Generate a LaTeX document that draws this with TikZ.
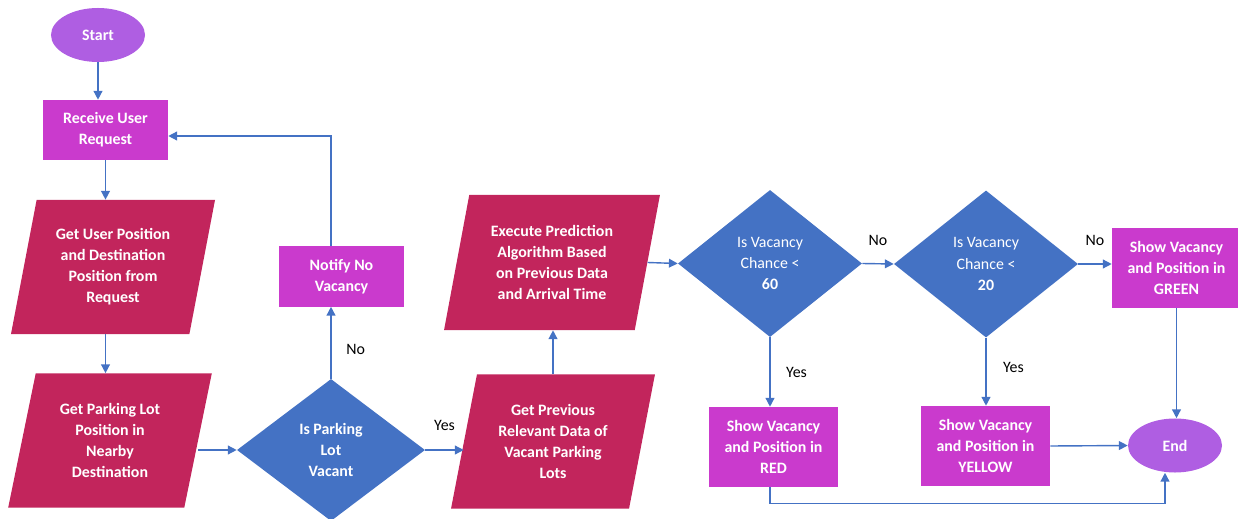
\documentclass[tikz,border=0pt]{standalone}
\usepackage{fontspec}
\setmainfont{Carlito}
\usetikzlibrary{arrows.meta,positioning,shapes.geometric}
\definecolor{ovalpurple}{HTML}{AF5EE2}
\definecolor{boxmagenta}{HTML}{CA3ACD}
\definecolor{iocrimson}{HTML}{C2255C}
\definecolor{decblue}{HTML}{4472C4}

\begin{document}
\begin{tikzpicture}[
    x=0.025cm, y=-0.025cm,
    txt/.style={text=white, align=center, font=\fontsize{11.3}{15}\selectfont\bfseries},
    oval/.style={txt, ellipse, fill=ovalpurple, minimum width=2.35cm, minimum height=1.35cm, inner sep=0pt},
    box/.style={txt, rectangle, fill=boxmagenta, minimum width=3.125cm, minimum height=1.5cm, inner sep=1pt},
    showbox/.style={box, minimum width=3.225cm, minimum height=2cm},
    iobox/.style={txt, trapezium, trapezium left angle=76, trapezium right angle=104, trapezium stretches=true, fill=iocrimson, minimum width=5.1cm, minimum height=3.35cm, inner sep=0pt},
    decbox/.style={txt, diamond, aspect=1.25, fill=decblue, minimum width=4.6cm, minimum height=3.675cm, inner sep=0pt},
    arr/.style={-{Triangle[length=2.2mm,width=2.2mm]}, decblue, line width=1pt},
    lbl/.style={font=\fontsize{11.3}{13}\selectfont, text=black}
]
\useasboundingbox (0,0) rectangle (1238,519);
\node[oval] (start) at (98,35) {Start};
\node[box] (recv) at (105.5,130) {Receive User\\Request};
\node[iobox] (getuser) at (113,267) {Get User Position\\and Destination\\Position from\\Request};
\node[iobox] (getlot) at (110,440.5) {Get Parking Lot\\Position in\\Nearby\\Destination};
\node[decbox, minimum width=4.7cm, minimum height=3.55cm] (vacant) at (331,450) {Is Parking\\Lot\\Vacant};
\node[box] (novac) at (341.5,276.5) {Notify No\\Vacancy};
\node[iobox] (prevdata) at (553,441.5) {Get Previous\\Relevant Data of\\Vacant Parking\\Lots};
\node[iobox, minimum width=5.4cm, minimum height=3.375cm] (predict) at (552,262.5) {Execute Prediction\\Algorithm Based\\on Previous Data\\and Arrival Time};
\node[decbox] (chance60) at (770,263.5) {\mdseries Is Vacancy\\\mdseries Chance <\\60};
\node[decbox] (chance20) at (986,264) {\mdseries Is Vacancy\\\mdseries Chance <\\20};
\node[showbox] (red) at (773.5,447) {Show Vacancy\\and Position in\\RED};
\node[showbox] (yellow) at (985.5,446) {Show Vacancy\\and Position in\\YELLOW};
\node[showbox] (green) at (1176.5,268) {Show Vacancy\\and Position in\\GREEN};
\node[oval] (stop) at (1175,445.5) {End};
% left column
\draw[arr] (start) -- (start |- recv.north);
\draw[arr] (recv.south) -- (recv.south |- getuser.north);
\draw[arr] (recv.south |- getuser.south) -- (recv.south |- getlot.north);
\draw[arr] (getlot.east |- vacant.west) -- (vacant.west);
\draw[arr] (vacant.east) -- (vacant.east -| prevdata.west) node[lbl, midway, above=0.35cm] {Yes};
\draw[arr] (vacant.north) -- (vacant.north |- novac.south) node[lbl, pos=0.41, right=0.25cm] {No};
\draw[arr] (vacant.north |- novac.north) |- ([yshift=-0.15cm]recv.east);
% prediction
\draw[arr] (prevdata.north) -- (prevdata.north |- predict.south);
\draw[arr] (predict.east) -- (chance60.west);
\draw[arr] (chance60.east) -- (chance20.west) node[lbl, midway, above=0.33cm] {No};
\draw[arr] (chance20.east) -- (chance20.east -| green.west) node[lbl, midway, above=0.33cm] {No};
\draw[arr] (chance60.south) -- (chance60.south |- red.north) node[lbl, midway, right=0.27cm] {Yes};
\draw[arr] (chance20.south) -- (chance20.south |- yellow.north) node[lbl, pos=0.43, right=0.29cm] {Yes};
% to the end
\draw[arr] (yellow.east) -- (stop.west);
\draw[arr] (green.south) -- (green.south |- stop.north);
\draw[arr] (chance60.south |- red.south) -- ++(0,16) -| ([xshift=-0.25cm]stop.south);
\end{tikzpicture}
\end{document}
